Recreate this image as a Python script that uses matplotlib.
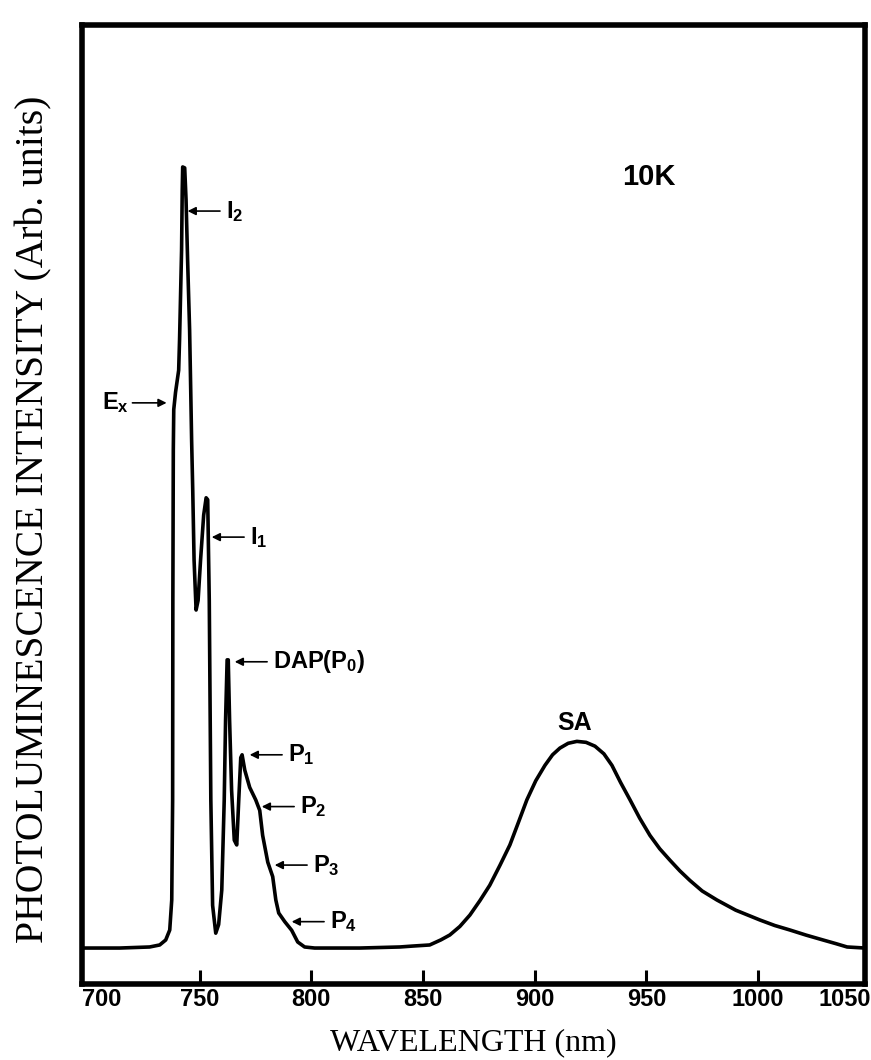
import matplotlib
matplotlib.use('Agg')
import matplotlib.pyplot as plt
from matplotlib import font_manager
from matplotlib.transforms import blended_transform_factory

# spectrum (nm, arb. units)
wavelength = [697.5, 714.2, 727.6, 732.1, 734.8, 736.6, 737.5, 737.9, 738.0, 738.2,
              738.4, 739.2, 740.6, 741.0, 741.3, 741.9, 742.2, 742.4, 743.3, 743.9,
              744.6, 745.5, 746.0, 746.4, 746.9, 747.5, 748.4, 749.3, 750.4, 751.8,
              752.9, 753.6, 754.3, 755.0, 755.8, 757.2, 758.5, 759.9, 761.0, 761.6,
              762.3, 762.8, 763.4, 764.3, 765.5, 766.6, 767.5, 768.4, 769.0, 770.2,
              772.4, 775.1, 776.9, 778.2, 780.5, 782.7, 784.1, 785.4, 788.1, 791.2,
              793.9, 797.0, 801.5, 821.7, 839.6, 845.0, 853.0, 858.0, 862.0, 866.5,
              871.0, 875.5, 879.9, 884.5, 888.9, 892.8, 896.5, 900.5, 904.6, 908.0,
              911.3, 915.0, 918.9, 923.0, 927.0, 931.0, 934.6, 938.5, 942.7, 947.0,
              951.6, 956.0, 960.6, 965.0, 969.5, 975.0, 981.6, 990.0, 1000.9, 1007.5,
              1014.3, 1021.5, 1029.1, 1035.0, 1039.9, 1047.9]
intensity = [3.75, 3.75, 3.86, 4.07, 4.59, 5.63, 8.76, 19.2, 40.0, 55.7,
             59.9, 61.7, 64.0, 67.2, 70.3, 76.5, 82.8, 85.2, 85.1, 81.8,
             75.5, 68.2, 61.9, 56.7, 51.5, 44.2, 39.0, 40.0, 44.2, 48.9,
             50.7, 50.5, 40.0, 19.2, 8.2, 5.3, 6.2, 9.8, 19.2, 27.5,
             33.8, 33.8, 27.5, 20.2, 15.0, 14.5, 19.2, 23.6, 23.9, 22.3,
             20.5, 19.2, 18.1, 15.5, 12.7, 11.2, 8.76, 7.4, 6.5, 5.6,
             4.38, 3.86, 3.75, 3.75, 3.86, 3.95, 4.07, 4.6, 5.11, 6.0,
             7.19, 8.7, 10.3, 12.4, 14.5, 16.9, 19.2, 21.2, 22.8, 23.9,
             24.6, 25.1, 25.3, 25.2, 24.8, 24.0, 22.8, 21.0, 19.2, 17.3,
             15.5, 14.1, 12.9, 11.8, 10.8, 9.7, 8.76, 7.7, 6.67, 6.1,
             5.63, 5.1, 4.59, 4.2, 3.86, 3.75]

tick_values = [750, 800, 850, 900, 950, 1000]
edge_labels = ['700', '1050']

peak_labels = ['I$_2$', 'E$_x$', 'I$_1$', 'DAP(P$_0$)', 'P$_1$', 'P$_2$', 'P$_3$', 'P$_4$']
peak_tip_nm = [744.6, 735.2, 755.4, 765.7, 772.4, 777.8, 783.6, 791.2]
peak_tip_int = [80.6, 60.6, 46.6, 33.6, 23.9, 18.5, 12.4, 6.5]

names = {f.name for f in font_manager.fontManager.ttflist}
narrow = 'Liberation Sans Narrow' if 'Liberation Sans Narrow' in names else 'Liberation Sans'
plt.rcParams['mathtext.fontset'] = 'custom'
plt.rcParams['mathtext.rm'] = narrow + ':bold'
plt.rcParams['mathtext.it'] = narrow + ':bold'
plt.rcParams['mathtext.bf'] = narrow + ':bold'

fig = plt.figure(figsize=(8.71, 10.60), dpi=100)
ax = fig.add_axes([0.0941, 0.0717, 0.8990, 0.9047])

ax.plot(wavelength, intensity, color='black', lw=2.6, solid_joinstyle='round')

ax.set_xlim(697.3, 1047.9)
ax.set_ylim(0, 100)
ax.set_yticks([])
ax.set_xticks(tick_values)
ax.set_xticklabels([str(v) for v in tick_values], fontfamily=narrow,
                   fontweight='bold', fontsize=17)
ax.tick_params(axis='x', direction='in', length=10, width=2.2, pad=3)
for s in ax.spines.values():
    s.set_linewidth(4)

trans = blended_transform_factory(ax.transData, ax.transAxes)
for val, lab in zip([706.3, 1039.0], edge_labels):
    ax.text(val, -0.0045, lab, transform=trans, ha='center', va='top',
            fontfamily=narrow, fontweight='bold', fontsize=17)

# arrows pointing to the peaks
for i, lab in enumerate(peak_labels):
    tx, ty = peak_tip_nm[i], peak_tip_int[i]
    if lab.startswith('E'):
        tail = tx - 15.3
        ax.annotate('', xy=(tx, ty), xytext=(tail, ty),
                    arrowprops=dict(arrowstyle='-|>', lw=1.2, color='black',
                                    mutation_scale=12, shrinkA=0, shrinkB=0))
        ax.text(tail - 1.3, ty, lab, ha='right', va='center',
                fontfamily=narrow, fontweight='bold', fontsize=17)
    else:
        tail = tx + 14.5
        ax.annotate('', xy=(tx, ty), xytext=(tail, ty),
                    arrowprops=dict(arrowstyle='-|>', lw=1.2, color='black',
                                    mutation_scale=12, shrinkA=0, shrinkB=0))
        ax.text(tail + 2.5, ty, lab, ha='left', va='center',
                fontfamily=narrow, fontweight='bold', fontsize=17)

ax.text(939.1, 84.2, '10K', ha='left', va='center', fontfamily=narrow,
        fontweight='bold', fontsize=21)
ax.text(918.0, 27.2, 'SA', ha='center', va='center', fontfamily=narrow,
        fontweight='bold', fontsize=18)

ax.set_xlabel('WAVELENGTH (nm)', fontfamily='Liberation Serif', fontsize=23,
              labelpad=12)
ax.text(-0.062, 0.485, 'PHOTOLUMINESCENCE INTENSITY (Arb. units)', rotation=90,
        transform=ax.transAxes, ha='center', va='center',
        fontfamily='Liberation Serif', fontsize=28.5)

fig.savefig('out.png', dpi=100)
